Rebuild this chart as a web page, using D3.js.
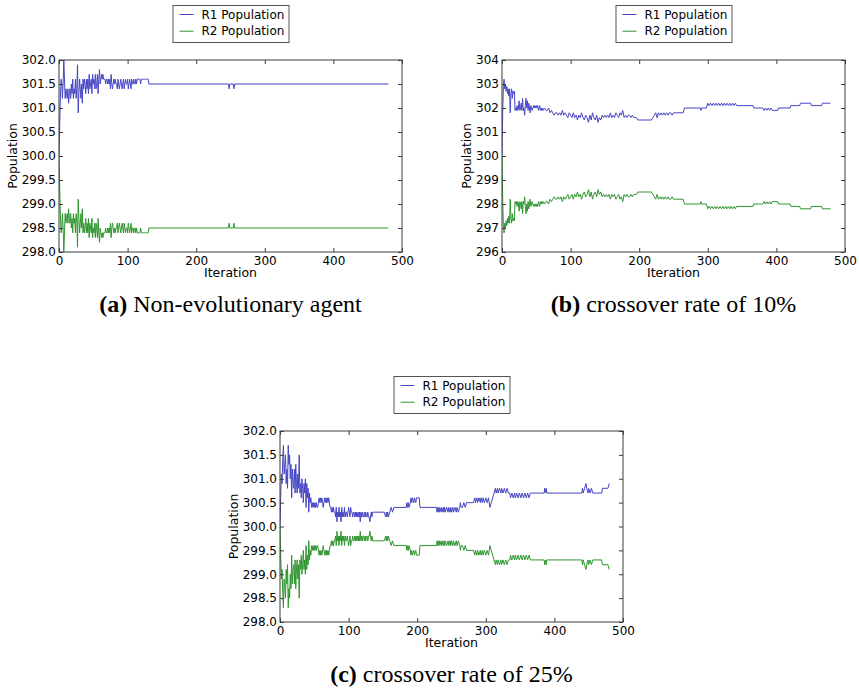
<!DOCTYPE html>
<html><head><meta charset="utf-8">
<script src="https://cdn.jsdelivr.net/npm/d3@7"></script>
<style>html,body{margin:0;padding:0;background:#fff;}svg{display:block;}</style>
</head><body><svg id="chart" width="859" height="693"></svg>
<script>
// ---------------- DATA ----------------
// Runs: [start, step, [values...]] = consecutive iterations; [x, v] = single point
const seriesNames = ["R1 Population", "R2 Population"];
const xTicks = [0, 100, 200, 300, 400, 500];
const yTicksA = [298.0, 298.5, 299.0, 299.5, 300.0, 300.5, 301.0, 301.5, 302.0];
const yTicksB = [296, 297, 298, 299, 300, 301, 302, 303, 304];
const yTicksC = [298.0, 298.5, 299.0, 299.5, 300.0, 300.5, 301.0, 301.5, 302.0];
const captionTags = ["(a)", "(b)", "(c)"];
const captionTexts = [" Non-evolutionary agent", " crossover rate of 10%", " crossover rate of 25%"];

// Panel (a) Non-evolutionary agent
const aR1 = [
  [0, 1, [300.0,300.6,301.2,301.6,301.5,301.2,301.5,302.0,301.6,301.2,
          301.4,301.3,301.2,301.4,301.1,301.3,301.4,301.2,301.5,301.3,
          301.6,301.2,301.4,301.3,301.6,301.2,301.4,301.9,300.9,301.3,
          301.6,301.4,301.2,301.5,301.1,301.6,301.4,301.6,301.5,301.3,
          301.6,301.4,301.6,301.3,301.7,301.4,301.5,301.6,301.3,301.7,
          301.5,301.6,301.4,301.7,301.4,301.5,301.7,301.3,301.6,301.8,
          301.5,301.6,301.7,301.6,301.7,301.6,301.6,301.6,301.5,301.6,
          301.6,301.5,301.6,301.5,301.6,301.4,301.7,301.5,301.4,301.5,
          301.6,301.5,301.6,301.5,301.5,301.4,301.6,301.5,301.4,301.5,
          301.6,301.5,301.4,301.5,301.6,301.4,301.5,301.6,301.5,301.5,
          301.6,301.4,301.5,301.6,301.5,301.4,301.6,301.5,301.5,301.6,
          301.5,301.5,301.6,301.5,301.6,301.6,301.6,301.6,301.6,301.5,
          301.6,301.6,301.6,301.6,301.6,301.6,301.6,301.6,301.6,301.6,
          301.6,301.5]],
  [247,301.5],[248,301.4],[249,301.5],[254,301.5],[255,301.4],[256,301.5],[480,301.5]
];
const aR2 = [
  [0, 1, [300.0,299.4,298.8,298.4,298.5,298.8,298.5,298.0,298.4,298.8,
          298.6,298.7,298.8,298.6,298.9,298.7,298.6,298.8,298.5,298.7,
          298.4,298.8,298.6,298.7,298.4,298.8,298.6,298.1,299.1,298.7,
          298.4,298.6,298.8,298.5,298.9,298.4,298.6,298.4,298.5,298.7,
          298.4,298.6,298.4,298.7,298.3,298.6,298.5,298.4,298.7,298.3,
          298.5,298.4,298.6,298.3,298.6,298.5,298.3,298.7,298.4,298.2,
          298.5,298.4,298.3,298.4,298.3,298.4,298.4,298.4,298.5,298.4,
          298.4,298.5,298.4,298.5,298.4,298.6,298.3,298.5,298.6,298.5,
          298.4,298.5,298.4,298.5,298.5,298.6,298.4,298.5,298.6,298.5,
          298.4,298.5,298.6,298.5,298.4,298.6,298.5,298.4,298.5,298.5,
          298.4,298.6,298.5,298.4,298.5,298.6,298.4,298.5,298.5,298.4,
          298.5,298.5,298.4,298.5,298.4,298.4,298.4,298.4,298.4,298.5,
          298.4,298.4,298.4,298.4,298.4,298.4,298.4,298.4,298.4,298.4,
          298.4,298.5]],
  [247,298.5],[248,298.6],[249,298.5],[254,298.5],[255,298.6],[256,298.5],[480,298.5]
];

// Panel (b) crossover rate of 10%
const bR1 = [
  [0, 1, [300.0,301.8,302.9,303.2,302.8,303.0,302.7,302.9,302.6,302.8,302.5,302.8,301.8,302.6,302.8,302.4,302.7,302.6,302.7,301.9,302.0,
          301.9,302.1,301.9,302.0,302.3,301.9,302.0,302.2,301.9,302.4,
          301.9,302.0,301.7,302.1,302.4,302.0,302.3,301.9,302.2,302.0,
          301.8,302.1,302.0,301.9,302.0,302.1,302.0,302.1,302.0,302.1,
          302.0,302.1,301.9,302.0,302.1,301.9,302.0,301.9,302.0,301.9]],
  [62, 2, [302.0,301.9,301.9,302.0,301.8,301.9,301.8,301.7,301.8,301.8,301.7,301.8,301.7,301.9,301.7,301.8,301.7,301.6,301.8,301.7,
           301.6,301.8,301.6,301.7,301.5,301.7,301.6,301.8,301.6,301.5,
           301.7,301.6,301.4,301.7,301.5,301.8,301.6,301.5,301.7,301.4,
           301.6,301.5,301.7,301.6,301.7,301.6,301.7,301.6,301.8,301.6,
           301.7,301.6,301.8,301.7,301.6,301.8,301.7,301.9,301.6,301.7,
           301.6,301.7,301.7,301.6,301.7,301.6,301.6,301.6,301.5,301.5]],
  [218,301.5],
  [220, 2, [301.6,301.7,301.8,301.6,301.8,301.7,301.8,301.7,301.8,301.7,301.8,301.7,301.8,301.8,301.7,301.8,301.8,301.8]],
  [264,301.8],[266,302.0],[289,302.0],[290,301.9],[291,302.0],[298,302.0],[300,302.2],
  [302, 2, [302.1,302.2,302.1,302.2,302.1,302.2,302.1,302.2,302.1,302.2,302.1,302.2,302.1,302.2,302.1,302.2,302.1,302.2,302.1,302.2,302.1]],
  [344,302.1],[366,302.1],[367,302.0],[380,302.0],
  [382, 2, [301.9,302.0,301.9,302.0,301.9,302.0,301.9]],
  [402,301.9],[403,302.0],[420,302.0],[421,302.1],[434,302.1],[435,302.2],[450,302.2],[451,302.1],[466,302.1],[467,302.2],[479,302.2]
];
const bR2 = [
  [0, 1, [300.0,298.2,297.1,296.8,297.2,297.0,297.3,297.1,297.4,297.2,297.5,297.2,298.2,297.4,297.2,297.6,297.3,297.4,297.3,298.1,298.0,
          298.1,297.9,298.1,298.0,297.7,298.1,298.0,297.8,298.1,297.6,
          298.1,298.0,298.3,297.9,297.6,298.0,297.7,298.1,297.8,298.0,
          298.2,297.9,298.0,298.1,298.0,297.9,298.0,297.9,298.0,297.9,
          298.0,297.9,298.1,298.0,297.9,298.1,298.0,298.1,298.0,298.1]],
  [62, 2, [298.0,298.1,298.1,298.0,298.2,298.1,298.2,298.3,298.2,298.2,298.3,298.2,298.3,298.1,298.3,298.2,298.3,298.4,298.2,298.3,
           298.4,298.2,298.4,298.3,298.5,298.3,298.4,298.2,298.4,298.5,
           298.3,298.4,298.6,298.3,298.5,298.2,298.4,298.5,298.3,298.6,
           298.4,298.5,298.3,298.4,298.3,298.4,298.3,298.4,298.2,298.4,
           298.3,298.4,298.2,298.3,298.4,298.2,298.3,298.1,298.4,298.3,
           298.4,298.3,298.3,298.4,298.3,298.4,298.4,298.4,298.5,298.5]],
  [218,298.5],
  [220, 2, [298.4,298.3,298.2,298.4,298.2,298.3,298.2,298.3,298.2,298.3,298.2,298.3,298.2,298.2,298.3,298.2,298.2,298.2]],
  [264,298.2],[266,298.0],[289,298.0],[290,298.1],[291,298.0],[298,298.0],[300,297.8],
  [302, 2, [297.9,297.8,297.9,297.8,297.9,297.8,297.9,297.8,297.9,297.8,297.9,297.8,297.9,297.8,297.9,297.8,297.9,297.8,297.9,297.8,297.9]],
  [344,297.9],[366,297.9],[367,298.0],[380,298.0],
  [382, 2, [298.1,298.0,298.1,298.0,298.1,298.0,298.1]],
  [402,298.1],[403,298.0],[420,298.0],[421,297.9],[434,297.9],[435,297.8],[450,297.8],[451,297.9],[466,297.9],[467,297.8],[479,297.8]
];

// Panel (c) crossover rate of 25%
const cR1 = [
  [0, 1, [300.0,300.6,301.1,300.9,301.4,301.7,301.1,301.3,301.5,300.9,301.2,
          300.8,301.7,301.3,301.5,301.0,301.3,300.6,301.2,300.9,300.8,
          301.2,300.7,301.3,300.9,300.7,301.1,300.8,301.5,300.7,300.9,
          300.6,301.0,300.8,300.5,300.9,300.7,301.0,300.4,300.9,300.6,
          300.8,300.3,300.7,300.5,300.6,300.4,300.5,300.4,300.5,300.4,
          300.5,300.4,300.5,300.4,300.4,300.5,300.6,300.5,300.6,300.5,
          300.6,300.5,300.4,300.5,300.6,300.5,300.6,300.5,300.6,300.5,
          300.6,300.5,300.4,300.4,300.3,300.4,300.3,300.4,300.3,300.3,
          300.2,300.4,300.1,300.3,300.2,300.4,300.2,300.3,300.1,300.4,
          300.2,300.3,300.2,300.4,300.2,300.3,300.3,300.2,300.3,300.4,
          300.3,300.2,300.4,300.3,300.3,300.2,300.3,300.3,300.2,300.3,
          300.2,300.3,300.2,300.3,300.2,300.3,300.1,300.3,300.2,300.3,
          300.2,300.2,300.3,300.2,300.3,300.2,300.2,300.3,300.2,300.2,
          300.1,300.2,300.3,300.2,300.3]],
  [152,300.3],[154,300.2],[155,300.3],[156,300.2],[157,300.3],[158,300.2],[160,300.3],[162,300.4],[164,300.3],[166,300.4],
  [184,300.4],[185,300.5],[186,300.4],[187,300.5],[188,300.4],[190,300.5],[191,300.6],[192,300.5],[193,300.6],[195,300.5],
  [196,300.6],[198,300.5],[199,300.6],[203,300.6],[204,300.4],[228,300.4],
  [229,300.3],[230,300.4],[231,300.3],[232,300.4],[233,300.3],[235,300.4],[236,300.3],[238,300.4],[239,300.3],[240,300.4],
  [241,300.3],[243,300.4],[245,300.3],[246,300.4],[248,300.3],[249,300.4],[250,300.3],[252,300.4],[253,300.3],[255,300.4],
  [257,300.3],[258,300.4],[260,300.3],[262,300.4],[263,300.5],[264,300.4],[266,300.4],[268,300.5],[270,300.4],[272,300.5],
  [282,300.5],[284,300.6],[285,300.5],[287,300.6],[288,300.5],[290,300.6],[292,300.5],[293,300.6],[295,300.5],[296,300.6],
  [298,300.5],[300,300.6],[302,300.5],[304,300.6],[306,300.4],[308,300.5],[310,300.6],[312,300.7],[314,300.8],[315,300.7],
  [317,300.8],[318,300.7],[320,300.8],[322,300.7],[323,300.8],[325,300.7],[327,300.8],[329,300.7],[331,300.8],[333,300.7],
  [335,300.7],[336,300.6],[338,300.7],[340,300.6],[342,300.7],[343,300.6],[345,300.7],[347,300.6],[349,300.7],[351,300.6],
  [353,300.7],[355,300.6],[357,300.7],[359,300.6],[361,300.7],[363,300.6],[365,300.7],[385,300.7],[386,300.8],[387,300.7],
  [388,300.8],[389,300.7],[440,300.7],[441,300.8],[442,300.7],[444,300.8],[446,300.9],[447,300.8],[449,300.7],[450,300.8],
  [452,300.7],[454,300.8],[456,300.7],[469,300.7],[470,300.8],[478,300.8],[480,300.9]
];
const cR2 = [
  [0, 1, [300.0,299.4,298.9,299.1,298.6,298.3,298.9,298.7,298.5,299.1,298.8,
          299.2,298.3,298.7,298.5,299.0,298.7,299.4,298.8,299.1,299.2,
          298.8,299.3,298.7,299.1,299.3,298.9,299.2,298.5,299.3,299.1,
          299.4,299.0,299.2,299.5,299.1,299.3,299.0,299.6,299.1,299.4,
          299.2,299.7,299.3,299.5,299.4,299.6,299.5,299.6,299.5,299.6,
          299.5,299.6,299.5,299.6,299.6,299.5,299.4,299.5,299.4,299.5,
          299.4,299.5,299.6,299.5,299.4,299.5,299.4,299.5,299.4,299.5,
          299.4,299.5,299.6,299.6,299.7,299.6,299.7,299.6,299.7,299.7,
          299.8,299.6,299.9,299.7,299.8,299.6,299.8,299.7,299.9,299.6,
          299.8,299.7,299.8,299.6,299.8,299.7,299.7,299.8,299.7,299.6,
          299.7,299.8,299.6,299.7,299.7,299.8,299.7,299.7,299.8,299.7,
          299.8,299.7,299.8,299.7,299.8,299.7,299.9,299.7,299.8,299.7,
          299.8,299.8,299.7,299.8,299.7,299.8,299.8,299.7,299.8,299.8,
          299.9,299.8,299.7,299.8,299.7]],
  [152,299.7],[154,299.8],[155,299.7],[156,299.8],[157,299.7],[158,299.8],[160,299.7],[162,299.6],[164,299.7],[166,299.6],
  [184,299.6],[185,299.5],[186,299.6],[187,299.5],[188,299.6],[190,299.5],[191,299.4],[192,299.5],[193,299.4],[195,299.5],
  [196,299.4],[198,299.5],[199,299.4],[203,299.4],[204,299.6],[228,299.6],
  [229,299.7],[230,299.6],[231,299.7],[232,299.6],[233,299.7],[235,299.6],[236,299.7],[238,299.6],[239,299.7],[240,299.6],
  [241,299.7],[243,299.6],[245,299.7],[246,299.6],[248,299.7],[249,299.6],[250,299.7],[252,299.6],[253,299.7],[255,299.6],
  [257,299.7],[258,299.6],[260,299.7],[262,299.6],[263,299.5],[264,299.6],[266,299.6],[268,299.5],[270,299.6],[272,299.5],
  [282,299.5],[284,299.4],[285,299.5],[287,299.4],[288,299.5],[290,299.4],[292,299.5],[293,299.4],[295,299.5],[296,299.4],
  [298,299.5],[300,299.4],[302,299.5],[304,299.4],[306,299.6],[308,299.5],[310,299.4],[312,299.3],[314,299.2],[315,299.3],
  [317,299.2],[318,299.3],[320,299.2],[322,299.3],[323,299.2],[325,299.3],[327,299.2],[329,299.3],[331,299.2],[333,299.3],
  [335,299.3],[336,299.4],[338,299.3],[340,299.4],[342,299.3],[343,299.4],[345,299.3],[347,299.4],[349,299.3],[351,299.4],
  [353,299.3],[355,299.4],[357,299.3],[359,299.4],[361,299.3],[363,299.4],[365,299.3],[385,299.3],[386,299.2],[387,299.3],
  [388,299.2],[389,299.3],[440,299.3],[441,299.2],[442,299.3],[444,299.2],[446,299.1],[447,299.2],[449,299.3],[450,299.2],
  [452,299.3],[454,299.2],[456,299.3],[469,299.3],[470,299.2],[478,299.2],[480,299.1]
];

// ---------------- DRAWING ----------------
const svg = d3.select("#chart");
const C1 = "#4545c4", C2 = "#2e962e", FRAME = "#3a3a3a";
const SANS = "DejaVu Sans", SERIF = "Liberation Serif";

function expand(runs) {
  const pts = [];
  runs.forEach(r => {
    if (Array.isArray(r[2])) r[2].forEach((v, i) => pts.push([r[0] + i * r[1], v]));
    else pts.push([r[0], r[1]]);
  });
  return pts;
}

function panel(cfg) {
  const g = svg.append("g");
  const x = d3.scaleLinear().domain([0, 500]).range([cfg.left, cfg.right]);
  const y = d3.scaleLinear().domain(d3.extent(cfg.yTicks)).range([cfg.bottom, cfg.top]);
  const clipId = "clip" + cfg.key;
  svg.append("clipPath").attr("id", clipId).append("rect")
    .attr("x", cfg.left).attr("y", cfg.top - 1)
    .attr("width", cfg.right - cfg.left).attr("height", cfg.bottom - cfg.top + 2);

  const line = d3.line().x(d => x(d[0])).y(d => y(d[1]));
  const lines = g.append("g").attr("clip-path", `url(#${clipId})`);
  [[cfg.r1, C1], [cfg.r2, C2]].forEach(([runs, col]) => {
    lines.append("path").datum(expand(runs)).attr("d", line)
      .attr("fill", "none").attr("stroke", col).attr("stroke-width", 1)
      .attr("stroke-linejoin", "round");
  });

  // axes
  const fmt = cfg.fmt;
  const ax = [
    [d3.axisBottom(x).tickValues(xTicks).tickFormat(d3.format("d")).tickSizeInner(-4).tickSizeOuter(0).tickPadding(4), `translate(0,${cfg.bottom})`],
    [d3.axisTop(x).tickValues(xTicks).tickFormat("").tickSizeInner(-4).tickSizeOuter(0), `translate(0,${cfg.top})`],
    [d3.axisLeft(y).tickValues(cfg.yTicks).tickFormat(fmt).tickSizeInner(-4).tickSizeOuter(0).tickPadding(3), `translate(${cfg.left},0)`],
    [d3.axisRight(y).tickValues(cfg.yTicks).tickFormat("").tickSizeInner(-4).tickSizeOuter(0), `translate(${cfg.right},0)`]
  ];
  ax.forEach(([a, t]) => {
    const s = g.append("g").attr("transform", t).call(a);
    s.select(".domain").remove();
    s.selectAll("line").attr("stroke", FRAME);
    s.selectAll("text").attr("font-family", SANS).attr("font-size", 12).attr("fill", "#000");
  });

  g.append("rect").attr("x", cfg.left).attr("y", cfg.top)
    .attr("width", cfg.right - cfg.left).attr("height", cfg.bottom - cfg.top)
    .attr("fill", "none").attr("stroke", FRAME).attr("stroke-width", 1);

  const cx = (cfg.left + cfg.right) / 2;
  g.append("text").attr("x", cx).attr("y", cfg.bottom + 24.5).attr("text-anchor", "middle")
    .attr("font-family", SANS).attr("font-size", 12.5).text("Iteration");
  g.append("text").attr("transform", `translate(${cfg.left - cfg.ylabOff},${(cfg.top + cfg.bottom) / 2}) rotate(-90)`)
    .attr("text-anchor", "middle").attr("dominant-baseline", "central")
    .attr("font-family", SANS).attr("font-size", 12.5).text("Population");

  // legend
  const lw = 116, lh = 37, lx = cx - lw / 2, ly = cfg.top - 55;
  const lg = g.append("g");
  lg.append("rect").attr("x", lx + 0.5).attr("y", ly + 0.5).attr("width", lw).attr("height", lh)
    .attr("fill", "#fff").attr("stroke", "#555").attr("stroke-width", 1);
  [C1, C2].forEach((col, i) => {
    const yy = ly + 9.5 + i * 16.7;
    lg.append("line").attr("x1", lx + 7).attr("x2", lx + 21).attr("y1", yy).attr("y2", yy)
      .attr("stroke", col).attr("stroke-width", 1);
    lg.append("text").attr("x", lx + 29).attr("y", yy).attr("dominant-baseline", "central")
      .attr("font-family", SANS).attr("font-size", 12).text(seriesNames[i]);
  });

  // caption
  const cap = g.append("text").attr("x", cx).attr("y", cfg.bottom + 60).attr("text-anchor", "middle")
    .attr("font-family", SERIF).attr("font-size", 24);
  cap.append("tspan").attr("font-weight", "bold").text(captionTags[cfg.idx]);
  cap.append("tspan").text(captionTexts[cfg.idx]);
}

panel({key: "a", idx: 0, left: 59, right: 402, top: 60, bottom: 252, yTicks: yTicksA, fmt: d3.format(".1f"), r1: aR1, r2: aR2, ylabOff: 47});
panel({key: "b", idx: 1, left: 502, right: 845, top: 60, bottom: 252, yTicks: yTicksB, fmt: d3.format("d"), r1: bR1, r2: bR2, ylabOff: 36});
panel({key: "c", idx: 2, left: 280, right: 623, top: 431, bottom: 622, yTicks: yTicksC, fmt: d3.format(".1f"), r1: cR1, r2: cR2, ylabOff: 47});
</script>
</body></html>
